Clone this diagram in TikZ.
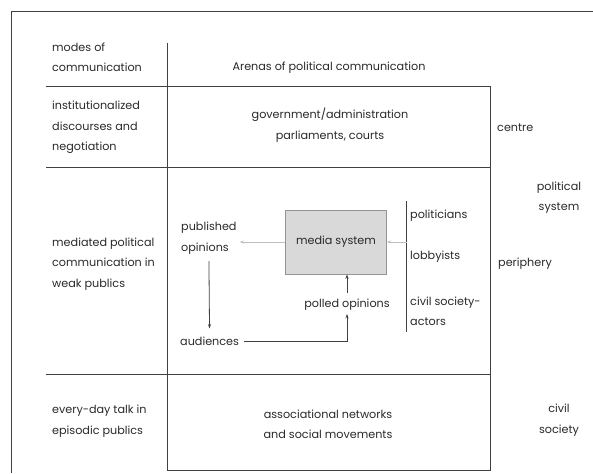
\documentclass[tikz,border=0pt]{standalone}
\usepackage{fontspec}
\setmainfont{Poppins}
\usetikzlibrary{arrows.meta}
\definecolor{linegray}{rgb}{0.25, 0.25, 0.25}
\definecolor{textgray}{rgb}{0.16, 0.16, 0.16}
\definecolor{boxgray}{rgb}{0.85, 0.85, 0.85}
\definecolor{boxborder}{rgb}{0.58, 0.58, 0.58}
\definecolor{arrowgray}{rgb}{0.75, 0.75, 0.75}

\tikzset{
	every node/.style={text=textgray, font=\fontsize{11.2}{20.5}\selectfont, inner sep=0pt},
	leftlabel/.style={anchor=west, align=left},
	midlabel/.style={align=center},
	gridline/.style={draw=linegray, line width=0.8pt},
	grayarrow/.style={draw=arrowgray, line width=0.8pt, -{Stealth[length=4pt,width=3pt]}},
	darkarrow/.style={draw=linegray, line width=0.8pt, -{Stealth[length=4.5pt,width=3.2pt]}}
}

\begin{document}
\begin{tikzpicture}[x=1pt, y=-1pt]
				\useasboundingbox (0,0) rectangle (593,473);
				% frame and table
				\draw[gridline, line width=1pt] (11,473) -- (11,12) -- (593,12);
				\draw[gridline] (167,43) -- (167,470);
				\draw[gridline] (46,86) -- (490.5,86) -- (490.5,470);
				\draw[gridline] (46,167) -- (490.5,167);
				\draw[gridline] (46,374) -- (490.5,374);
				\draw[gridline] (167,470) -- (490.5,470);
				% header row
				\node[leftlabel] (modes) at (52,57.5) {modes of\\communication};
				\node (arenas) at (329,68) {Arenas of political communication};
				% centre
				\node[leftlabel] (institutional) at (52,127.5) {institutionalized\\discourses and\\negotiation};
				\node[midlabel] (government) at (330,125) {government/administration\\parliaments, courts};
				\node[leftlabel] (centre) at (497,128) {centre};
				\node[midlabel] (politicalsystem) at (559,197.5) {political\\system};
				% periphery
				\node[leftlabel] (mediated) at (52,264) {mediated political\\communication in\\weak publics};
				\node[leftlabel] (published) at (181,238) {published\\opinions};
				\node[draw=boxborder, fill=boxgray, line width=0.8pt, minimum width=101, minimum height=64] (media) at (336,242) {media system};
				\node[leftlabel] (politicians) at (410,216) {politicians};
				\node[leftlabel] (lobbyists) at (410,257) {lobbyists};
				\node[leftlabel] (civilactors) at (410,311.5) {civil society-\\actors};
				\node[leftlabel] (periphery) at (498,264) {periphery};
				\node (polled) at (347,305) {polled opinions};
				\node[leftlabel] (audiences) at (180,341) {audiences};
				\coordinate (actorstop) at (406.5,201);
				\coordinate (actorsbottom) at (406.5,332);
				\draw[gridline] (actorstop) -- (actorsbottom);
				\draw[grayarrow] (media.west) -- ([xshift=3pt]published.east |- media.west);
				\draw[grayarrow] (media.east -| actorstop) -- (media.east);
				\draw[darkarrow, shorten <=6pt] (polled.north) -- (polled.north |- media.south);
				\draw[darkarrow, shorten <=7pt, shorten >=8pt] (published.south) -- (audiences.north);
				\draw[darkarrow, shorten <=5pt, shorten >=3pt] (audiences.east) -| (polled.south);
				% civil society
				\node[leftlabel] (everyday) at (52,421) {every-day talk in\\episodic publics};
				\node[midlabel] (associational) at (328,424.5) {associational networks\\and social movements};
				\node[midlabel] (civilsociety) at (559,420) {civil\\society};
			\end{tikzpicture}
\end{document}
